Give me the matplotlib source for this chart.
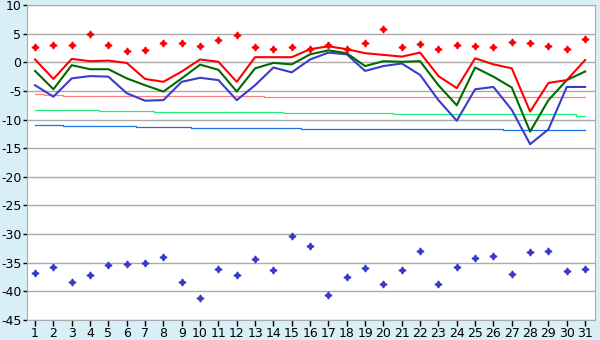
import numpy as np
import matplotlib
matplotlib.use("Agg")
import matplotlib.pyplot as plt

days = list(range(1, 32))

# daily mean / max / min temperatures
t_max = [0.5, -2.9, 0.6, 0.2, 0.3, -0.1, -2.9, -3.4, -1.6, 0.5,
         0.1, -3.4, 0.9, 0.9, 0.9, 2.3, 2.8, 2.3, 1.6, 1.3,
         1.0, 1.7, -2.4, -4.5, 0.7, -0.35, -1.05, -8.6, -3.6, -3.1, 0.4]
t_mean = [-1.5, -4.7, -0.5, -1.2, -1.2, -2.8, -4.0, -5.1, -2.8, -0.4,
          -1.3, -5.1, -1.05, -0.1, -0.35, 1.4, 2.1, 1.6, -0.65, 0.2,
          0.1, 0.2, -4.0, -7.5, -0.9, -2.5, -4.4, -12.1, -6.6, -3.1, -1.6]
t_min = [-4.0, -6.0, -2.8, -2.4, -2.5, -5.4, -6.7, -6.6, -3.4, -2.7,
         -3.1, -6.6, -4.0, -0.9, -1.75, 0.5, 1.7, 1.4, -1.5, -0.65,
         -0.2, -2.2, -6.6, -10.2, -4.7, -4.3, -8.3, -14.3, -11.7, -4.3, -4.3]

# record highs / lows
rec_high = [2.6, 3.0, 3.0, 4.9, 3.0, 2.0, 2.1, 3.3, 3.3, 2.8,
            3.9, 4.8, 2.6, 2.3, 2.6, 2.3, 3.0, 2.4, 3.3, 5.8,
            2.7, 3.2, 2.3, 3.0, 2.8, 2.6, 3.5, 3.3, 2.8, 2.4, 4.0]
rec_low = [-36.8, -35.8, -38.4, -37.2, -35.4, -35.3, -35.1, -34.05, -38.4, -41.2,
           -36.1, -37.2, -34.4, -36.3, -30.4, -32.1, -40.7, -37.5, -36.0, -38.8,
           -36.3, -33.0, -38.8, -35.8, -34.2, -33.9, -37.0, -33.2, -33.0, -36.5, -36.1]

# climate normals
norm_max = [-5.6, -5.7, -5.8, -5.8, -5.85, -5.9, -5.95, -5.95, -5.95, -5.95,
            -5.95, -5.95, -5.95, -6.05, -6.1, -6.1, -6.1, -6.1, -6.1, -6.1,
            -6.1, -6.1, -6.1, -6.1, -6.1, -6.1, -6.1, -6.1, -6.1, -6.1, -6.1]
norm_mean = [-8.35, -8.35, -8.35, -8.35, -8.5, -8.5, -8.5, -8.7, -8.7, -8.7,
             -8.7, -8.7, -8.7, -8.7, -8.9, -8.9, -8.9, -8.9, -8.9, -8.9,
             -9.1, -9.1, -9.1, -9.1, -9.1, -9.1, -9.1, -9.1, -9.1, -9.1, -9.4]
norm_min = [-11.0, -11.0, -11.2, -11.2, -11.2, -11.2, -11.35, -11.35, -11.35, -11.5,
            -11.5, -11.5, -11.5, -11.5, -11.5, -11.7, -11.7, -11.7, -11.7, -11.7,
            -11.7, -11.7, -11.7, -11.7, -11.7, -11.7, -11.75, -11.75, -11.75, -11.75, -11.75]

bg = "#d9eff7"
fig = plt.figure(figsize=(6, 3.4), dpi=100, facecolor=bg)
ax = fig.add_axes([0.045, 0.059, 0.947, 0.926])
ax.set_facecolor("white")

ax.step(days, norm_max, where="mid", color="#ff8080", lw=0.9)
ax.step(days, norm_mean, where="mid", color="#22ee77", lw=0.9)
ax.step(days, norm_min, where="mid", color="#1a73e0", lw=0.9)

ax.plot(days, t_min, color="#3a3acc", lw=1.5)
ax.plot(days, t_mean, color="#006a00", lw=1.5)
ax.plot(days, t_max, color="#ff0000", lw=1.5)

ax.plot(days, rec_high, ls="none", marker=(4, 1, 0), ms=5, color="#ff0000")
ax.plot(days, rec_low, ls="none", marker=(4, 1, 0), ms=5, color="#3a3acc")

ax.set_xlim(0.56, 31.55)
ax.set_ylim(-45, 10)
ax.set_yticks(range(-45, 11, 5))
ax.set_yticklabels([str(v) for v in range(-45, 11, 5)])
ax.set_xticks(days)
ax.grid(axis="y", color="#aaaaaa", lw=1)
ax.set_axisbelow(True)
for s in ax.spines.values():
    s.set_color("#aaaaaa")
ax.tick_params(axis="both", direction="out", length=4, width=1, color="black",
               labelsize=9, pad=1)
ax.tick_params(axis="y", length=3)

fig.savefig("out.png", dpi=100, facecolor=bg)
